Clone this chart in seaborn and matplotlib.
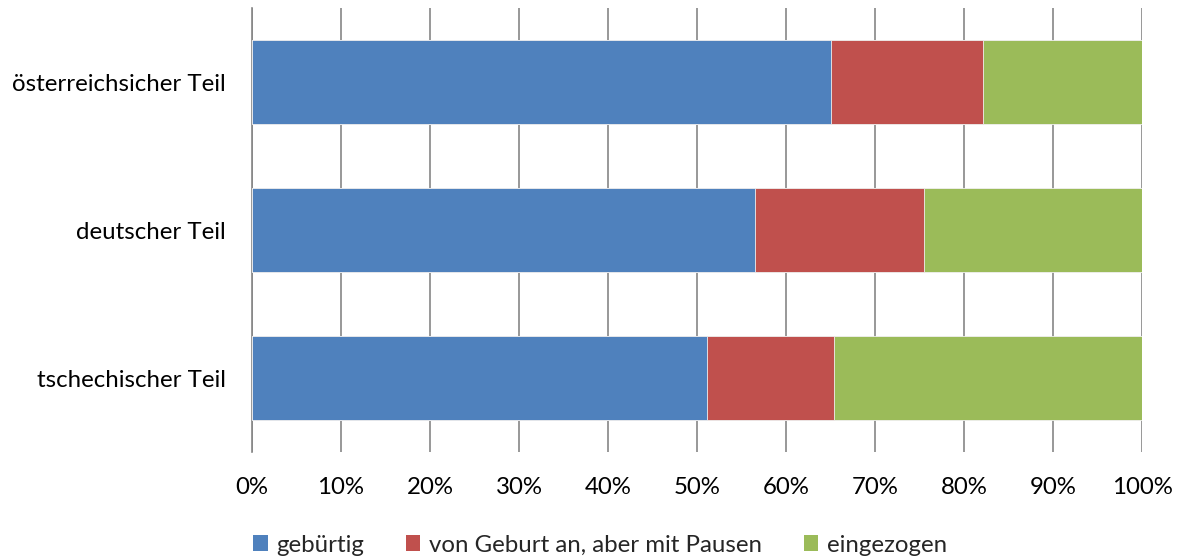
import matplotlib
matplotlib.use("Agg")
import matplotlib.pyplot as plt
import seaborn as sns
import pandas as pd
import numpy as np
from matplotlib.patches import Patch
from matplotlib.ticker import FuncFormatter, MultipleLocator

categories = ["österreichsicher Teil", "deutscher Teil", "tschechischer Teil"]
series_names = ["gebürtig", "von Geburt an, aber mit Pausen", "eingezogen"]
gebuertig = [65.1, 56.5, 51.1]
pausen = [17.0, 19.0, 14.3]
eingezogen = [17.9, 24.5, 34.6]
colors = ["#4F81BD", "#C0504D", "#9BBB59"]

sns.set_theme(style="white")
plt.rcParams['font.family'] = ['Lato', 'DejaVu Sans']
FS = 17.3

fig = plt.figure(figsize=(11.78, 5.58), dpi=100)
ax = fig.add_axes([252/1178, 106/558, 890/1178, 444/558])

vals = np.array([gebuertig, pausen, eingezogen])
cum = np.cumsum(vals, axis=0)
for i in [2, 1, 0]:
    df = pd.DataFrame({"cat": categories, "val": cum[i]})
    sns.barplot(data=df, x="val", y="cat", orient="h", color=colors[i],
                saturation=1, width=0.57, edgecolor="#f0f0f0", linewidth=0.6,
                ax=ax, zorder=3)

ax.set_xlim(0, 100)
ax.set_ylim(2.5, -0.5)
ax.xaxis.set_major_locator(MultipleLocator(10))
ax.xaxis.set_major_formatter(FuncFormatter(lambda v, p: f"{v:.0f}%"))
ax.grid(axis="x", color="#868686", linewidth=1.2, zorder=0)
ax.grid(axis="y", visible=False)
for s in ["top", "right", "bottom"]:
    ax.spines[s].set_visible(False)
ax.spines["left"].set_color("#868686")
ax.spines["left"].set_linewidth(1.2)
ax.set_xlabel("")
ax.set_ylabel("")
ax.tick_params(axis="x", length=0, pad=18, labelsize=FS, colors="black")
ax.tick_params(axis="y", length=0, pad=19, labelsize=FS, colors="black")

handles = [Patch(facecolor=c, edgecolor="none") for c in colors]
fig.legend(handles, series_names, loc="center", bbox_to_anchor=(600/1178, 1 - 545/558),
           ncol=3, frameon=False, fontsize=FS, handlelength=0.6, handleheight=0.6,
           handletextpad=0.35, columnspacing=1.75, borderpad=0)

fig.savefig("out.png", dpi=100)
